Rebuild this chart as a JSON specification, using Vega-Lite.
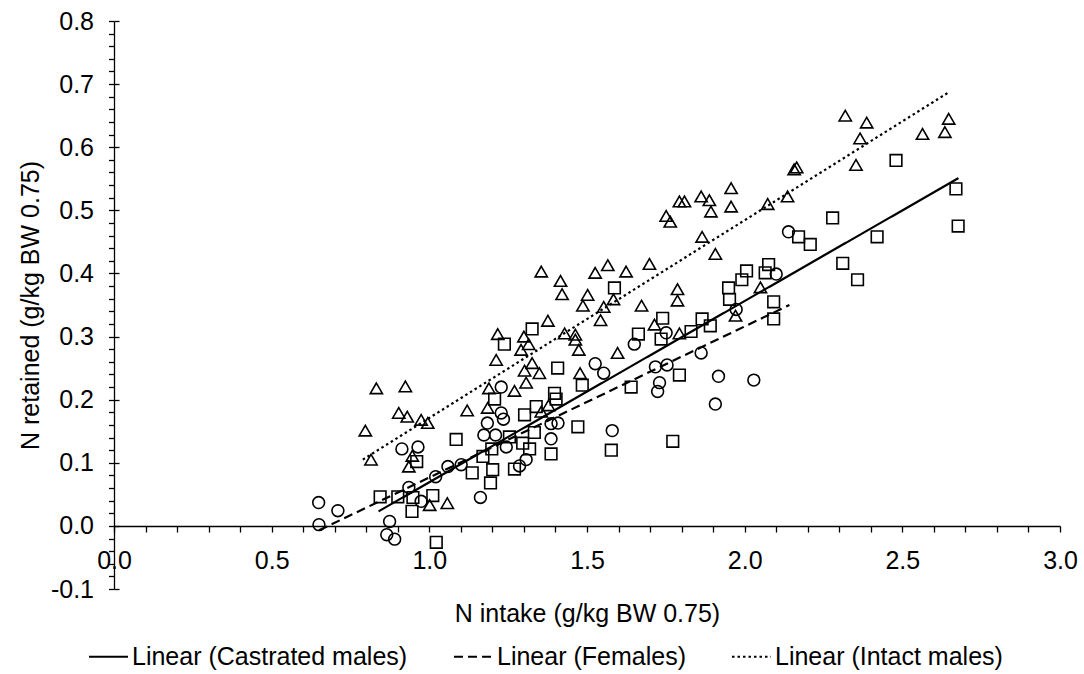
{
  "$schema": "https://vega.github.io/schema/vega-lite/v6.json",
  "description": "N retained vs N intake for castrated males, females and intact males",
  "width": 946,
  "height": 568,
  "autosize": {"type": "none"},
  "padding": {"left": 114, "top": 21, "right": 24, "bottom": 85},
  "config": {
    "view": {"stroke": null},
    "font": "Liberation Sans",
    "axis": {
      "grid": false,
      "domainColor": "black",
      "domainWidth": 1.3,
      "tickColor": "black",
      "tickWidth": 1.3,
      "labelColor": "black",
      "titleColor": "black",
      "labelFont": "Liberation Sans",
      "titleFont": "Liberation Sans",
      "labelFontSize": 25,
      "titleFontSize": 25,
      "titleFontWeight": "normal",
      "labelOverlap": false,
      "labelFlush": false,
      "labelBound": false
    },
    "legend": {
      "labelFont": "Liberation Sans",
      "labelFontSize": 25,
      "labelColor": "black"
    }
  },
  "datasets": {
    "points": [
      {"intake": 0.649, "retained": 0.037, "group": "Females"},
      {"intake": 0.710, "retained": 0.024, "group": "Females"},
      {"intake": 0.650, "retained": 0.002, "group": "Females"},
      {"intake": 0.874, "retained": 0.007, "group": "Females"},
      {"intake": 0.865, "retained": -0.014, "group": "Females"},
      {"intake": 0.890, "retained": -0.021, "group": "Females"},
      {"intake": 0.913, "retained": 0.122, "group": "Females"},
      {"intake": 0.964, "retained": 0.125, "group": "Females"},
      {"intake": 0.935, "retained": 0.061, "group": "Females"},
      {"intake": 0.974, "retained": 0.039, "group": "Females"},
      {"intake": 1.162, "retained": 0.045, "group": "Females"},
      {"intake": 1.184, "retained": 0.163, "group": "Females"},
      {"intake": 1.173, "retained": 0.144, "group": "Females"},
      {"intake": 1.210, "retained": 0.144, "group": "Females"},
      {"intake": 1.228, "retained": 0.220, "group": "Females"},
      {"intake": 1.228, "retained": 0.179, "group": "Females"},
      {"intake": 1.235, "retained": 0.169, "group": "Females"},
      {"intake": 1.244, "retained": 0.125, "group": "Females"},
      {"intake": 1.286, "retained": 0.095, "group": "Females"},
      {"intake": 1.307, "retained": 0.105, "group": "Females"},
      {"intake": 1.059, "retained": 0.094, "group": "Females"},
      {"intake": 1.101, "retained": 0.097, "group": "Females"},
      {"intake": 1.020, "retained": 0.078, "group": "Females"},
      {"intake": 1.526, "retained": 0.257, "group": "Females"},
      {"intake": 1.553, "retained": 0.242, "group": "Females"},
      {"intake": 2.139, "retained": 0.466, "group": "Females"},
      {"intake": 2.100, "retained": 0.399, "group": "Females"},
      {"intake": 1.973, "retained": 0.343, "group": "Females"},
      {"intake": 1.751, "retained": 0.306, "group": "Females"},
      {"intake": 1.650, "retained": 0.288, "group": "Females"},
      {"intake": 1.862, "retained": 0.274, "group": "Females"},
      {"intake": 1.717, "retained": 0.252, "group": "Females"},
      {"intake": 1.754, "retained": 0.255, "group": "Females"},
      {"intake": 1.730, "retained": 0.227, "group": "Females"},
      {"intake": 1.724, "retained": 0.213, "group": "Females"},
      {"intake": 1.917, "retained": 0.237, "group": "Females"},
      {"intake": 2.029, "retained": 0.231, "group": "Females"},
      {"intake": 1.907, "retained": 0.193, "group": "Females"},
      {"intake": 1.580, "retained": 0.151, "group": "Females"},
      {"intake": 1.386, "retained": 0.162, "group": "Females"},
      {"intake": 1.408, "retained": 0.163, "group": "Females"},
      {"intake": 1.386, "retained": 0.138, "group": "Females"},
      {"intake": 0.844, "retained": 0.046, "group": "Castrated males"},
      {"intake": 0.900, "retained": 0.046, "group": "Castrated males"},
      {"intake": 0.945, "retained": 0.023, "group": "Castrated males"},
      {"intake": 1.011, "retained": 0.048, "group": "Castrated males"},
      {"intake": 0.948, "retained": 0.045, "group": "Castrated males"},
      {"intake": 1.022, "retained": -0.026, "group": "Castrated males"},
      {"intake": 1.085, "retained": 0.137, "group": "Castrated males"},
      {"intake": 0.960, "retained": 0.102, "group": "Castrated males"},
      {"intake": 1.136, "retained": 0.084, "group": "Castrated males"},
      {"intake": 1.194, "retained": 0.068, "group": "Castrated males"},
      {"intake": 1.201, "retained": 0.089, "group": "Castrated males"},
      {"intake": 1.170, "retained": 0.110, "group": "Castrated males"},
      {"intake": 1.198, "retained": 0.122, "group": "Castrated males"},
      {"intake": 1.207, "retained": 0.201, "group": "Castrated males"},
      {"intake": 1.254, "retained": 0.141, "group": "Castrated males"},
      {"intake": 1.270, "retained": 0.090, "group": "Castrated males"},
      {"intake": 1.302, "retained": 0.176, "group": "Castrated males"},
      {"intake": 1.296, "retained": 0.131, "group": "Castrated males"},
      {"intake": 1.326, "retained": 0.312, "group": "Castrated males"},
      {"intake": 1.238, "retained": 0.288, "group": "Castrated males"},
      {"intake": 1.407, "retained": 0.250, "group": "Castrated males"},
      {"intake": 1.587, "retained": 0.377, "group": "Castrated males"},
      {"intake": 1.485, "retained": 0.223, "group": "Castrated males"},
      {"intake": 1.397, "retained": 0.210, "group": "Castrated males"},
      {"intake": 2.279, "retained": 0.488, "group": "Castrated males"},
      {"intake": 2.171, "retained": 0.458, "group": "Castrated males"},
      {"intake": 2.208, "retained": 0.446, "group": "Castrated males"},
      {"intake": 2.311, "retained": 0.416, "group": "Castrated males"},
      {"intake": 2.358, "retained": 0.390, "group": "Castrated males"},
      {"intake": 2.076, "retained": 0.414, "group": "Castrated males"},
      {"intake": 2.065, "retained": 0.401, "group": "Castrated males"},
      {"intake": 2.006, "retained": 0.404, "group": "Castrated males"},
      {"intake": 1.991, "retained": 0.390, "group": "Castrated males"},
      {"intake": 1.949, "retained": 0.377, "group": "Castrated males"},
      {"intake": 1.952, "retained": 0.359, "group": "Castrated males"},
      {"intake": 2.092, "retained": 0.355, "group": "Castrated males"},
      {"intake": 2.092, "retained": 0.328, "group": "Castrated males"},
      {"intake": 1.865, "retained": 0.328, "group": "Castrated males"},
      {"intake": 1.891, "retained": 0.317, "group": "Castrated males"},
      {"intake": 1.830, "retained": 0.308, "group": "Castrated males"},
      {"intake": 1.740, "retained": 0.329, "group": "Castrated males"},
      {"intake": 1.663, "retained": 0.304, "group": "Castrated males"},
      {"intake": 1.735, "retained": 0.296, "group": "Castrated males"},
      {"intake": 1.793, "retained": 0.239, "group": "Castrated males"},
      {"intake": 1.640, "retained": 0.220, "group": "Castrated males"},
      {"intake": 1.772, "retained": 0.134, "group": "Castrated males"},
      {"intake": 1.577, "retained": 0.120, "group": "Castrated males"},
      {"intake": 2.480, "retained": 0.579, "group": "Castrated males"},
      {"intake": 2.670, "retained": 0.534, "group": "Castrated males"},
      {"intake": 2.677, "retained": 0.475, "group": "Castrated males"},
      {"intake": 2.420, "retained": 0.458, "group": "Castrated males"},
      {"intake": 1.402, "retained": 0.201, "group": "Castrated males"},
      {"intake": 1.339, "retained": 0.189, "group": "Castrated males"},
      {"intake": 1.333, "retained": 0.148, "group": "Castrated males"},
      {"intake": 1.318, "retained": 0.122, "group": "Castrated males"},
      {"intake": 1.471, "retained": 0.157, "group": "Castrated males"},
      {"intake": 1.386, "retained": 0.114, "group": "Castrated males"},
      {"intake": 0.832, "retained": 0.218, "group": "Intact males"},
      {"intake": 0.924, "retained": 0.221, "group": "Intact males"},
      {"intake": 0.903, "retained": 0.179, "group": "Intact males"},
      {"intake": 0.930, "retained": 0.173, "group": "Intact males"},
      {"intake": 0.974, "retained": 0.168, "group": "Intact males"},
      {"intake": 0.995, "retained": 0.163, "group": "Intact males"},
      {"intake": 0.797, "retained": 0.151, "group": "Intact males"},
      {"intake": 0.815, "retained": 0.105, "group": "Intact males"},
      {"intake": 0.946, "retained": 0.111, "group": "Intact males"},
      {"intake": 0.935, "retained": 0.094, "group": "Intact males"},
      {"intake": 1.001, "retained": 0.033, "group": "Intact males"},
      {"intake": 1.057, "retained": 0.036, "group": "Intact males"},
      {"intake": 1.120, "retained": 0.183, "group": "Intact males"},
      {"intake": 1.189, "retained": 0.218, "group": "Intact males"},
      {"intake": 1.185, "retained": 0.187, "group": "Intact males"},
      {"intake": 1.270, "retained": 0.214, "group": "Intact males"},
      {"intake": 1.302, "retained": 0.246, "group": "Intact males"},
      {"intake": 1.307, "retained": 0.227, "group": "Intact males"},
      {"intake": 1.212, "retained": 0.263, "group": "Intact males"},
      {"intake": 1.355, "retained": 0.403, "group": "Intact males"},
      {"intake": 1.416, "retained": 0.388, "group": "Intact males"},
      {"intake": 1.421, "retained": 0.367, "group": "Intact males"},
      {"intake": 1.526, "retained": 0.401, "group": "Intact males"},
      {"intake": 1.566, "retained": 0.413, "group": "Intact males"},
      {"intake": 1.502, "retained": 0.366, "group": "Intact males"},
      {"intake": 1.487, "retained": 0.349, "group": "Intact males"},
      {"intake": 1.553, "retained": 0.347, "group": "Intact males"},
      {"intake": 1.543, "retained": 0.326, "group": "Intact males"},
      {"intake": 1.584, "retained": 0.359, "group": "Intact males"},
      {"intake": 1.376, "retained": 0.325, "group": "Intact males"},
      {"intake": 1.217, "retained": 0.304, "group": "Intact males"},
      {"intake": 1.300, "retained": 0.300, "group": "Intact males"},
      {"intake": 1.291, "retained": 0.279, "group": "Intact males"},
      {"intake": 1.315, "retained": 0.288, "group": "Intact males"},
      {"intake": 1.429, "retained": 0.305, "group": "Intact males"},
      {"intake": 1.463, "retained": 0.303, "group": "Intact males"},
      {"intake": 1.463, "retained": 0.295, "group": "Intact males"},
      {"intake": 1.474, "retained": 0.279, "group": "Intact males"},
      {"intake": 1.326, "retained": 0.258, "group": "Intact males"},
      {"intake": 1.349, "retained": 0.242, "group": "Intact males"},
      {"intake": 1.478, "retained": 0.242, "group": "Intact males"},
      {"intake": 1.597, "retained": 0.274, "group": "Intact males"},
      {"intake": 2.165, "retained": 0.568, "group": "Intact males"},
      {"intake": 2.157, "retained": 0.565, "group": "Intact males"},
      {"intake": 1.957, "retained": 0.535, "group": "Intact males"},
      {"intake": 1.862, "retained": 0.522, "group": "Intact males"},
      {"intake": 1.888, "retained": 0.516, "group": "Intact males"},
      {"intake": 1.793, "retained": 0.514, "group": "Intact males"},
      {"intake": 1.809, "retained": 0.514, "group": "Intact males"},
      {"intake": 1.893, "retained": 0.498, "group": "Intact males"},
      {"intake": 1.957, "retained": 0.506, "group": "Intact males"},
      {"intake": 1.751, "retained": 0.491, "group": "Intact males"},
      {"intake": 1.764, "retained": 0.482, "group": "Intact males"},
      {"intake": 2.136, "retained": 0.522, "group": "Intact males"},
      {"intake": 2.073, "retained": 0.510, "group": "Intact males"},
      {"intake": 1.865, "retained": 0.458, "group": "Intact males"},
      {"intake": 1.907, "retained": 0.431, "group": "Intact males"},
      {"intake": 1.624, "retained": 0.403, "group": "Intact males"},
      {"intake": 1.698, "retained": 0.415, "group": "Intact males"},
      {"intake": 1.673, "retained": 0.349, "group": "Intact males"},
      {"intake": 1.787, "retained": 0.375, "group": "Intact males"},
      {"intake": 1.787, "retained": 0.357, "group": "Intact males"},
      {"intake": 1.714, "retained": 0.319, "group": "Intact males"},
      {"intake": 1.793, "retained": 0.305, "group": "Intact males"},
      {"intake": 2.050, "retained": 0.378, "group": "Intact males"},
      {"intake": 1.971, "retained": 0.333, "group": "Intact males"},
      {"intake": 2.353, "retained": 0.572, "group": "Intact males"},
      {"intake": 2.319, "retained": 0.650, "group": "Intact males"},
      {"intake": 2.387, "retained": 0.639, "group": "Intact males"},
      {"intake": 2.366, "retained": 0.614, "group": "Intact males"},
      {"intake": 2.564, "retained": 0.621, "group": "Intact males"},
      {"intake": 2.647, "retained": 0.645, "group": "Intact males"},
      {"intake": 2.635, "retained": 0.624, "group": "Intact males"},
      {"intake": 1.378, "retained": 0.191, "group": "Intact males"},
      {"intake": 1.355, "retained": 0.181, "group": "Intact males"}
    ],
    "trends": [
      {"intake": 0.839, "retained": 0.023, "series": "Linear (Castrated males)"},
      {"intake": 2.678, "retained": 0.551, "series": "Linear (Castrated males)"},
      {"intake": 0.650, "retained": -0.007, "series": "Linear (Females)"},
      {"intake": 2.142, "retained": 0.350, "series": "Linear (Females)"},
      {"intake": 0.789, "retained": 0.105, "series": "Linear (Intact males)"},
      {"intake": 2.647, "retained": 0.687, "series": "Linear (Intact males)"}
    ]
  },
  "layer": [
    {
      "data": {"name": "points"},
      "transform": [{"filter": "datum.group == 'Females'"}],
      "mark": {"type": "point", "shape": "circle", "filled": false, "color": "black", "strokeWidth": 1.6, "size": 140, "opacity": 1},
      "encoding": {
        "x": {
          "field": "intake",
          "type": "quantitative",
          "scale": {"domain": [0, 3], "nice": false, "zero": false},
          "axis": {
            "orient": "bottom",
            "offset": -63,
            "values": [0, 0.1, 0.2, 0.3, 0.4, 0.5, 0.6, 0.7, 0.8, 0.9, 1, 1.1, 1.2, 1.3, 1.4, 1.5, 1.6, 1.7, 1.8, 1.9, 2, 2.1, 2.2, 2.3, 2.4, 2.5, 2.6, 2.7, 2.8, 2.9, 3],
            "labelExpr": "abs(datum.value * 2 - round(datum.value * 2)) < 0.001 ? format(datum.value, '.1f') : ''",
            "tickSize": 6,
            "labelPadding": 16,
            "title": "N intake (g/kg BW 0.75)",
            "titlePadding": 28
          }
        },
        "y": {
          "field": "retained",
          "type": "quantitative",
          "scale": {"domain": [-0.1, 0.8], "nice": false, "zero": false},
          "axis": {
            "orient": "left",
            "values": [-0.1, -0.08, -0.06, -0.04, -0.02, 0, 0.02, 0.04, 0.06, 0.08, 0.1, 0.12, 0.14, 0.16, 0.18, 0.2, 0.22, 0.24, 0.26, 0.28, 0.3, 0.32, 0.34, 0.36, 0.38, 0.4, 0.42, 0.44, 0.46, 0.48, 0.5, 0.52, 0.54, 0.56, 0.58, 0.6, 0.62, 0.64, 0.66, 0.68, 0.7, 0.72, 0.74, 0.76, 0.78, 0.8],
            "labelExpr": "abs(datum.value * 10 - round(datum.value * 10)) < 0.001 ? replace(format(datum.value, '.1f'), '\u2212', '-') : ''",
            "tickSize": 5.5,
            "labelPadding": 15,
            "title": "N retained (g/kg BW 0.75)",
            "titlePadding": 7
          }
        }
      }
    },
    {
      "data": {"name": "points"},
      "transform": [{"filter": "datum.group == 'Castrated males'"}],
      "mark": {"type": "point", "shape": "square", "filled": false, "color": "black", "strokeWidth": 1.6, "size": 135, "opacity": 1},
      "encoding": {
        "x": {"field": "intake", "type": "quantitative", "axis": null},
        "y": {
          "field": "retained",
          "type": "quantitative",
          "axis": {
            "orient": "left",
            "values": [-0.1, 0, 0.1, 0.2, 0.3, 0.4, 0.5, 0.6, 0.7, 0.8],
            "tickSize": -5,
            "labels": false,
            "domain": false,
            "title": null
          }
        }
      }
    },
    {
      "data": {"name": "points"},
      "transform": [{"filter": "datum.group == 'Intact males'"}],
      "mark": {"type": "point", "shape": "triangle-up", "filled": false, "color": "black", "strokeWidth": 1.6, "size": 150, "opacity": 1},
      "encoding": {
        "x": {"field": "intake", "type": "quantitative", "axis": null},
        "y": {"field": "retained", "type": "quantitative", "axis": null}
      }
    },
    {
      "data": {"name": "trends"},
      "mark": {"type": "line", "color": "black", "strokeWidth": 2.2, "strokeCap": "butt"},
      "encoding": {
        "x": {"field": "intake", "type": "quantitative", "axis": null},
        "y": {"field": "retained", "type": "quantitative", "axis": null},
        "strokeDash": {
          "field": "series",
          "type": "nominal",
          "scale": {
            "domain": ["Linear (Castrated males)", "Linear (Females)", "Linear (Intact males)"],
            "range": [[1, 0], [9, 5], [2.5, 3]]
          },
          "legend": {
            "orient": "none",
            "legendX": -26,
            "legendY": 615,
            "direction": "horizontal",
            "title": null,
            "padding": 0,
            "symbolType": "stroke",
            "symbolSize": 1521,
            "symbolStrokeWidth": 2,
            "symbolStrokeColor": "black",
            "labelOffset": 3,
            "labelLimit": 400,
            "columnPadding": 42
          }
        }
      }
    }
  ],
  "resolve": {"axis": {"x": "independent", "y": "independent"}}
}
